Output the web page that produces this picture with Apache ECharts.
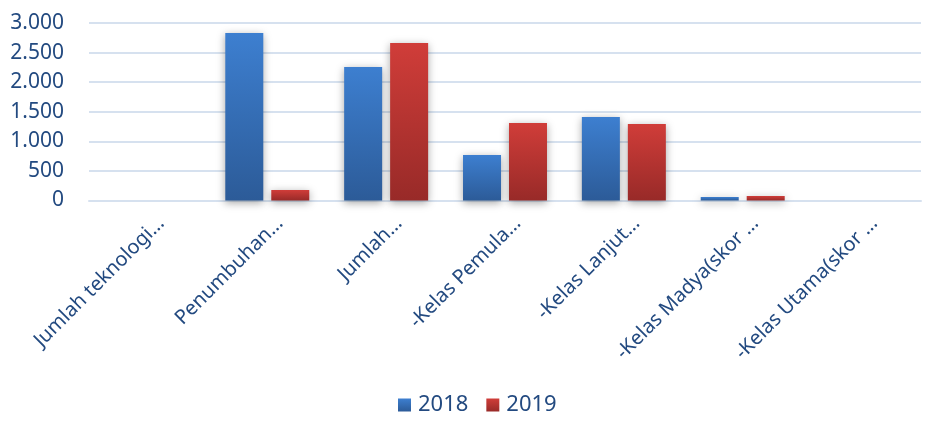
<!DOCTYPE html>
<html>
<head>
<meta charset="utf-8">
<script src="https://cdn.jsdelivr.net/npm/echarts@6/dist/echarts.min.js"></script>
<style>html,body{margin:0;padding:0;background:#fff}#c{width:939px;height:429px}</style>
</head>
<body>
<div id="c"></div>
<script>
const categories = ["Jumlah teknologi…", "Penumbuhan…", "Jumlah…", "-Kelas Pemula…", "-Kelas Lanjut…", "-Kelas Madya(skor …", "-Kelas Utama(skor …"];
const seriesNames = ["2018", "2019"];
const values2018 = [0, 2830, 2256, 769, 1411, 59, 0];
const values2019 = [0, 177, 2662, 1310, 1293, 76, 0];
const yTicks = [0, 500, 1000, 1500, 2000, 2500, 3000];

const textColor = '#234a80';
const font = 'Noto Sans';
function grad(top, bottom) {
  return new echarts.graphic.LinearGradient(0, 0, 0, 1, [{offset: 0, color: top}, {offset: 1, color: bottom}]);
}
const chart = echarts.init(document.getElementById('c'));
chart.setOption({
  animation: false,
  grid: {left: 89, right: 18, top: 23, bottom: 228.5, containLabel: false},
  legend: {
    data: seriesNames, bottom: 8, left: 393, itemWidth: 13, itemHeight: 13, itemGap: 18,
    icon: 'rect',
    textStyle: {color: textColor, fontSize: 22, fontFamily: font, padding: [0, 0, 0, 2]}
  },
  xAxis: {
    type: 'category', data: categories,
    axisLine: {show: true, lineStyle: {color: '#d6e1ef', width: 2}},
    axisTick: {show: false},
    axisLabel: {
      rotate: 45, interval: 0, margin: 7, color: textColor, fontSize: 20, fontFamily: font,
      verticalAlign: 'top', padding: [8, 0, 0, 0]
    }
  },
  yAxis: {
    type: 'value', min: yTicks[0], max: yTicks[yTicks.length - 1], interval: 500,
    axisLine: {show: false}, axisTick: {show: false},
    splitLine: {lineStyle: {color: '#d6e1ef', width: 2}},
    axisLabel: {
      margin: 25, color: textColor, fontSize: 21, fontFamily: font,
      formatter: v => v.toString().replace(/\B(?=(\d{3})+(?!\d))/g, '.')
    }
  },
  series: [
    {
      name: seriesNames[0], type: 'bar', data: values2018, barWidth: 38, barGap: '21%',
      itemStyle: {color: grad('#3d7fd0', '#2c5b98'), shadowBlur: 8, shadowColor: 'rgba(0,0,0,0.35)', shadowOffsetY: 2}
    },
    {
      name: seriesNames[1], type: 'bar', data: values2019, barWidth: 38,
      itemStyle: {color: grad('#d03d39', '#982a28'), shadowBlur: 8, shadowColor: 'rgba(0,0,0,0.35)', shadowOffsetY: 2}
    }
  ]
});
</script>
</body>
</html>
